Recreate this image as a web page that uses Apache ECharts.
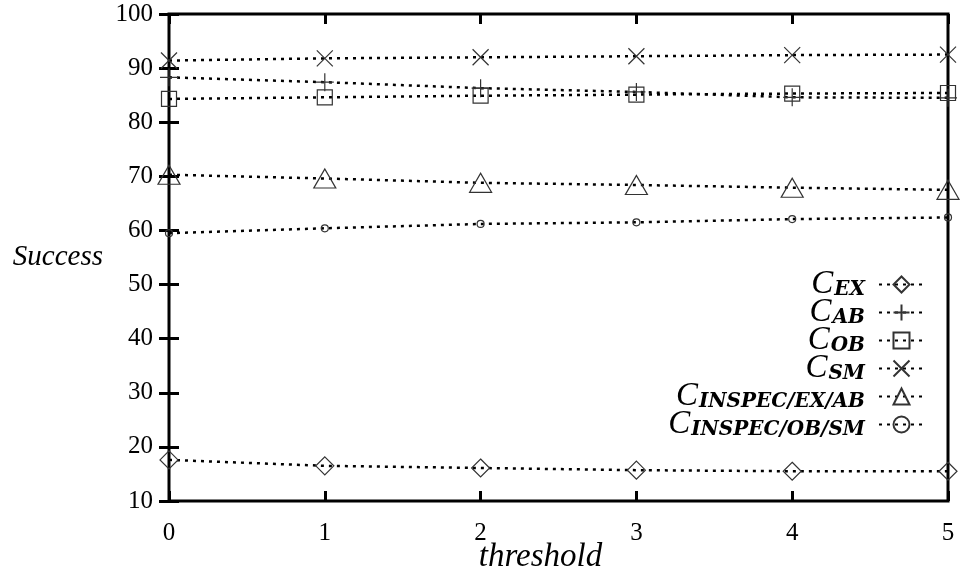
<!DOCTYPE html>
<html>
<head>
<meta charset="utf-8">
<script src="https://cdn.jsdelivr.net/npm/echarts@6/dist/echarts.min.js"></script>
<style>
  html, body { margin: 0; padding: 0; background: #fff; }
  #chart { width: 962px; height: 575px; }
</style>
</head>
<body>
<div id="chart"></div>
<script>
// Success rate against the threshold for each classifier
const thresholds = [0, 1, 2, 3, 4, 5];
const seriesNames = ['EX', 'AB', 'OB', 'SM', 'INSPEC/EX/AB', 'INSPEC/OB/SM'];
const cEX = [17.6, 16.5, 16.1, 15.7, 15.5, 15.5];
const cAB = [88.3, 87.4, 86.3, 85.6, 84.6, 84.5];
const cOB = [84.3, 84.6, 84.9, 85.1, 85.3, 85.4];
const cSM = [91.4, 91.8, 92.0, 92.2, 92.4, 92.5];
const cInspecExAb = [70.3, 69.6, 68.8, 68.4, 67.9, 67.5];
const cInspecObSm = [59.5, 60.4, 61.2, 61.5, 62.1, 62.4];
const yTicks = [10, 20, 30, 40, 50, 60, 70, 80, 90, 100];

const serif = '"Liberation Serif", "DejaVu Serif", serif';
const markStroke = '#333';

const plusPath = 'path://M10,0L10,20M0,10L20,10';
const crossPath = 'path://M0,0L20,20M0,20L20,0';

const styles = [
  { symbol: 'diamond', size: 18, data: cEX },
  { symbol: plusPath, size: 18, data: cAB },
  { symbol: 'rect', size: 15, data: cOB },
  { symbol: crossPath, size: 16, data: cSM },
  { symbol: 'triangle', size: [22, 19], data: cInspecExAb },
  { symbol: 'circle', size: 7, data: cInspecObSm }
];

const series = styles.map((s, i) => ({
  name: seriesNames[i],
  type: 'line',
  data: thresholds.map((t, k) => [t, s.data[k]]),
  symbol: s.symbol,
  symbolSize: s.size,
  showAllSymbol: true,
  clip: false,
  lineStyle: { color: '#000', width: 2.5, type: [3, 5] },
  itemStyle: { color: 'rgba(0,0,0,0)', borderColor: markStroke, borderWidth: 1.2 },
  emphasis: { disabled: true },
  animation: false
}));

const tickStyle = { show: true, inside: true, length: 10, lineStyle: { color: '#000', width: 3 } };

const chart = echarts.init(document.getElementById('chart'), null, { renderer: 'canvas' });
chart.setOption({
  backgroundColor: '#fff',
  animation: false,
  grid: {
    left: 169, right: 14, top: 14, bottom: 74,
    outerBoundsMode: 'none',
    containLabel: false,
    show: true, borderColor: '#000', borderWidth: 3, backgroundColor: 'transparent'
  },
  xAxis: [
    {
      type: 'value', min: 0, max: 5, interval: 1, position: 'bottom',
      name: 'threshold', nameLocation: 'middle', nameGap: 40, nameMoveOverlap: false,
      nameTextStyle: { fontFamily: serif, fontStyle: 'italic', fontSize: 33, color: '#000', padding: [0, 36, 0, 0] },
      axisLine: { show: false },
      axisTick: tickStyle,
      splitLine: { show: false },
      axisLabel: { margin: 20, fontFamily: serif, fontSize: 25, color: '#000' }
    },
    {
      type: 'value', min: 0, max: 5, interval: 1, position: 'top',
      axisLine: { show: false }, axisTick: tickStyle,
      splitLine: { show: false }, axisLabel: { show: false }
    }
  ],
  yAxis: [
    {
      type: 'value', min: yTicks[0], max: yTicks[yTicks.length - 1], interval: 10, position: 'left',
      name: 'Success', nameLocation: 'middle', nameGap: 66, nameRotate: 0,
      nameTextStyle: { fontFamily: serif, fontStyle: 'italic', fontSize: 29, color: '#000' },
      axisLine: { show: false },
      axisTick: tickStyle,
      splitLine: { show: false },
      axisLabel: { margin: 16, fontFamily: serif, fontSize: 25, color: '#000' }
    },
    {
      type: 'value', min: 10, max: 100, interval: 10, position: 'right',
      axisLine: { show: false }, axisTick: tickStyle,
      splitLine: { show: false }, axisLabel: { show: false }
    }
  ],
  legend: {
    orient: 'vertical',
    right: 37, top: 268,
    padding: 0,
    align: 'right',
    itemWidth: 45, itemHeight: 20, itemGap: -5,
    selectedMode: false,
    data: seriesNames,
    formatter: name => '{c|C}{s|' + name + '}',
    textStyle: {
      color: '#000',
      padding: [0, 9, 0, 0],
      rich: {
        c: { fontFamily: serif, fontStyle: 'italic', fontSize: 33, lineHeight: 24, color: '#000' },
        s: { fontFamily: '"DejaVu Serif", serif', fontStyle: 'italic', fontWeight: 'bold', fontSize: 20, lineHeight: 18, padding: [10, 0, 0, 1], color: '#000' }
      }
    }
  },
  series: series
});
</script>
</body>
</html>
